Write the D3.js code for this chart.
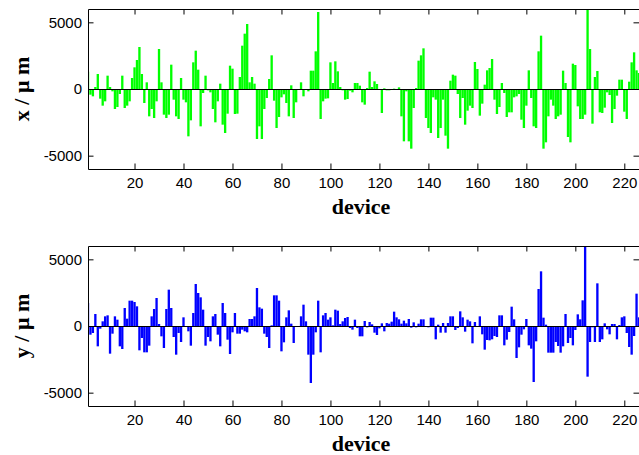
<!DOCTYPE html>
<html>
<head>
<meta charset="utf-8">
<script src="https://cdn.jsdelivr.net/npm/d3@7"></script>
<style>
  html, body { margin: 0; padding: 0; background: #fff; overflow: hidden; }
  svg { display: block; }
</style>
</head>
<body>
<svg id="chart" width="639" height="455"></svg>
<script>
// Per-device position offsets (µm), devices 1..226
const devices = d3.range(1, 227);

const xOffsets = [
  1300,-425,-550,150,1125,-725,-1250,-925,1000,150,-175,-1500,-1350,-375,1000,-1425,-1250,-925,825,1625,
  2175,3150,1125,-1050,500,-2050,-1500,-2175,-925,3000,500,-1925,-2175,-1925,1825,-800,-2050,-2250,825,-800,
  -1000,-3550,-2350,2000,2875,1450,-2800,-300,1000,-100,-250,-1500,-2500,-925,400,-2675,-3300,
  -1850,1750,1525,-1875,-1850,900,3250,4150,4875,500,900,400,-3750,-2800,-3750,-1500,-675,750,2525,-875,
  -2925,-2100,-625,-400,-1050,-2050,275,-2175,-1000,-50,500,-550,-50,-175,1375,1375,2825,5775,-2250,-925,
  -725,-700,2000,450,2075,1325,150,-100,-800,-750,-125,-250,450,450,250,
  -1000,-1175,75,1300,150,575,375,-50,-1800,50,-100,-100,-50,25,-25,125,-2050,-3925,-175,-3925,
  -4475,-1425,75,2125,2525,3050,-2175,-2925,-3300,-625,-800,-3675,-2925,-800,-3500,-4475,625,1075,1000,-375,
  -2175,-675,-2675,-1625,-1250,-1425,2025,1500,-2000,-1100,325,1400,1575,2250,-800,-1875,
  -1350,450,-300,-2100,-1750,-1750,-625,-550,-375,-2300,-2925,-1250,1400,-675,-2800,-2925,2825,4000,-4475,-4000,
  -2050,-800,-1250,-2250,-2050,-1925,1375,450,-3600,-4000,1900,1800,-1300,-2250,-2250,-1925,6000,
  3000,-2600,900,1350,-1750,-1800,-1400,-250,-450,-2550,-1500,-500,700,700,-1700,-2250,550,2000,2750,1400,1200
];

const yOffsets = [
  1725,-650,-525,900,-1525,-200,350,725,800,-2075,-575,725,475,-1525,-1725,1350,550,1900,1900,1800,
  1475,-1825,-900,-1975,-1975,-1475,725,1275,2100,150,-775,-1650,1275,2725,1350,-825,-2150,-525,-1200,650,
  0,-400,-1475,975,3150,2475,2150,1225,-1475,-825,-1150,725,900,-650,-1525,1725,
  975,-1025,-2100,-475,975,-575,-575,-275,-400,-475,525,525,725,2850,1400,1300,-575,-825,-1650,50,
  2300,2300,1900,-1900,-1225,650,1175,175,-1275,0,0,725,1600,350,-2150,-4275,-2150,-475,1900,-1975,
  800,975,475,650,50,1225,1150,150,350,600,675,-150,-275,475,-150,-775,
  -775,375,-100,300,125,-500,-675,-175,200,-400,225,175,325,1075,650,500,175,400,200,525,
  -125,275,-100,175,500,500,0,-100,625,625,-1000,100,-500,225,-500,225,725,725,-300,-150,
  1100,650,-425,475,350,-1300,300,0,725,-625,-1775,-1050,-1075,-1000,-750,
  -825,800,800,-1450,-1025,-450,1450,500,-2400,-1600,-650,-250,525,-1450,-1700,-4200,-1150,2775,4100,625,
  100,-2000,-2000,-2000,-1200,-1500,-2000,-1525,900,-1275,-900,-1450,-300,875,500,1925,6000,-3800,-1200,-100,
  -1200,3200,-1200,-1000,200,-250,-625,150,150,-1000,75,650,725,-525,-1575,-2150,-750,2425,650
];

const xTickValues = [20, 40, 60, 80, 100, 120, 140, 160, 180, 200, 220];
const yTickValues = [-5000, 0, 5000];
const xDomain = [1, 226];
const yDomain = [-6000, 6000];
const xAxisTitle = "device";

const svg = d3.select("#chart");
const plotLeft = 88, plotRight = 639;
const barWidth = 0.95;
const tickFont = "'Liberation Sans', Arial, sans-serif";
const titleFont = "'Liberation Serif', 'Times New Roman', serif";
const plainNumber = v => String(v);

const x = d3.scaleLinear().domain(xDomain).range([plotLeft, plotRight]);

const panels = [
  { id: "px", values: xOffsets, fill: "#00ff00", label: "x / \u03bc m", top: 9, bottom: 169 },
  { id: "py", values: yOffsets, fill: "#0000ff", label: "y / \u03bc m", top: 246, bottom: 406 }
];

panels.forEach(p => {
  const y = d3.scaleLinear().domain(yDomain).range([p.bottom, p.top]);
  const g = svg.append("g");

  g.append("clipPath").attr("id", "clip-" + p.id)
    .append("rect")
    .attr("x", plotLeft).attr("y", p.top)
    .attr("width", plotRight - plotLeft).attr("height", p.bottom - p.top);

  // bars
  g.append("g").attr("clip-path", `url(#clip-${p.id})`)
    .selectAll("rect")
    .data(devices.map((d, i) => ({ d, v: p.values[i] })))
    .join("rect")
    .attr("x", e => x(e.d - barWidth / 2))
    .attr("width", e => x(e.d + barWidth / 2) - x(e.d - barWidth / 2))
    .attr("y", e => y(Math.max(0, e.v)))
    .attr("height", e => Math.abs(y(e.v) - y(0)))
    .attr("fill", p.fill);

  // baseline at zero
  g.append("line")
    .attr("x1", plotLeft).attr("x2", plotRight)
    .attr("y1", y(0) + 0.5).attr("y2", y(0) + 0.5)
    .attr("stroke", "#000").attr("stroke-width", 1);

  const styleAxis = sel => {
    sel.attr("font-family", tickFont).attr("font-size", 15);
    sel.selectAll("path, line").attr("stroke", "#000");
    sel.selectAll("text").attr("fill", "#000");
  };

  g.append("g").attr("transform", `translate(0,${p.bottom})`)
    .call(d3.axisBottom(x).tickValues(xTickValues).tickFormat(plainNumber)
      .tickSizeInner(-5.5).tickSizeOuter(0).tickPadding(8.2))
    .call(styleAxis);

  g.append("g").attr("transform", `translate(0,${p.top})`)
    .call(d3.axisTop(x).tickValues(xTickValues).tickSizeInner(-5.5).tickSizeOuter(0).tickFormat(""))
    .call(styleAxis);

  g.append("g").attr("transform", `translate(${plotLeft},0)`)
    .call(d3.axisLeft(y).tickValues(yTickValues).tickFormat(plainNumber)
      .tickSizeInner(-5.5).tickSizeOuter(0).tickPadding(6))
    .call(styleAxis);

  g.append("g").attr("transform", `translate(${plotRight},0)`)
    .call(d3.axisRight(y).tickValues(yTickValues).tickSizeInner(-5.5).tickSizeOuter(0).tickFormat(""))
    .call(styleAxis);

  // axis titles
  g.append("text")
    .attr("x", 361).attr("y", p.bottom + 44.5)
    .attr("text-anchor", "middle")
    .attr("font-family", titleFont).attr("font-weight", "bold").attr("font-size", 22)
    .attr("fill", "#000")
    .text(xAxisTitle);

  g.append("text")
    .attr("transform", `translate(29,${(p.top + p.bottom) / 2}) rotate(-90)`)
    .attr("text-anchor", "middle")
    .attr("font-family", titleFont).attr("font-weight", "bold").attr("font-size", 22)
    .attr("fill", "#000")
    .text(p.label);
});
</script>
</body>
</html>
